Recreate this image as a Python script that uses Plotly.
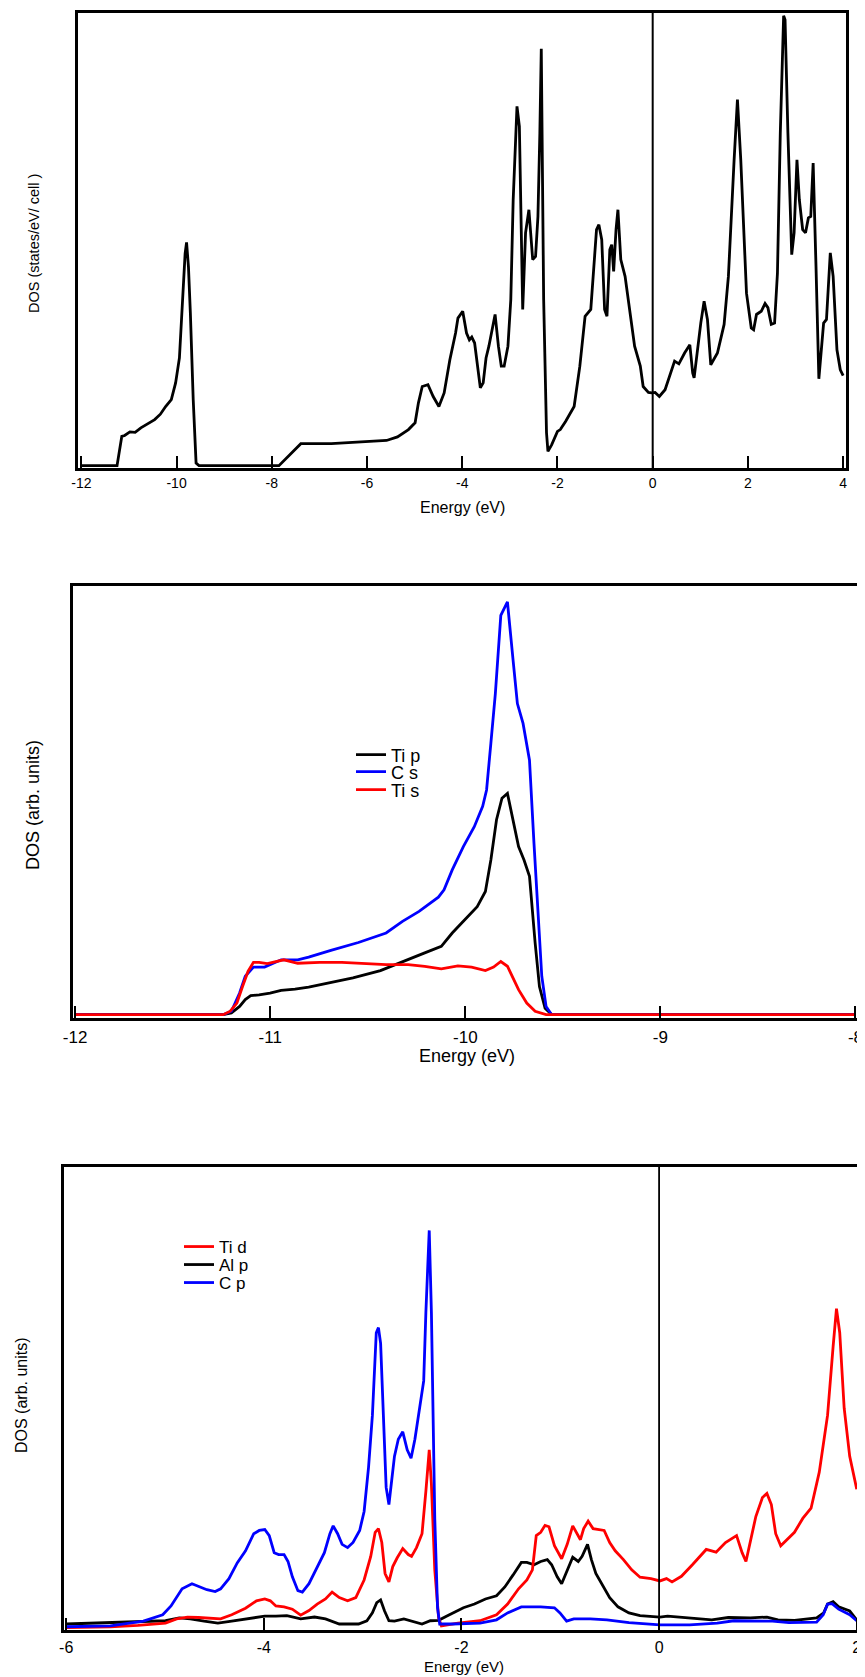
import plotly.graph_objects as go

# ---------------- Panel 1: total DOS ----------------
tot_E = [-12.0, -11.25, -11.15, -11.09, -10.98, -10.87, -10.75, -10.64, -10.46, -10.34,
         -10.23, -10.11, -10.02, -9.94, -9.88, -9.82, -9.79, -9.75, -9.71, -9.65,
         -9.59, -9.53, -7.85, -7.39, -6.75, -6.17, -5.59, -5.36, -5.13, -4.99,
         -4.92, -4.84, -4.72, -4.61, -4.49, -4.38, -4.26, -4.14, -4.09, -3.99,
         -3.91, -3.85, -3.80, -3.74, -3.68, -3.62, -3.56, -3.50, -3.44, -3.39,
         -3.31, -3.24, -3.18, -3.12, -3.04, -2.98, -2.93, -2.85, -2.80, -2.73,
         -2.67, -2.60, -2.52, -2.46, -2.41, -2.37, -2.34, -2.29, -2.23, -2.20,
         -2.12, -2.00, -1.94, -1.83, -1.65, -1.53, -1.42, -1.30, -1.24, -1.18,
         -1.13, -1.07, -1.01, -0.96, -0.90, -0.86, -0.82, -0.77, -0.73, -0.67,
         -0.58, -0.49, -0.38, -0.26, -0.20, -0.09, -0.02, 0.05, 0.14, 0.26,
         0.38, 0.46, 0.55, 0.67, 0.78, 0.84, 0.87, 0.95, 1.01, 1.08,
         1.15, 1.22, 1.36, 1.50, 1.59, 1.71, 1.78, 1.85, 1.97, 2.07,
         2.12, 2.18, 2.28, 2.36, 2.42, 2.49, 2.56, 2.62, 2.68, 2.75,
         2.78, 2.84, 2.92, 2.97, 3.03, 3.08, 3.15, 3.21, 3.27, 3.32,
         3.37, 3.43, 3.49, 3.59, 3.65, 3.73, 3.79, 3.87, 3.94, 4.0]
tot_DOS = [0.15, 0.15, 6.6, 6.8, 7.6, 7.5, 8.5, 9.2, 10.3, 11.5,
           13.2, 14.7, 18.4, 23.9, 36.8, 47.0, 49.4, 44.0, 33.8, 14.7,
           0.7, 0.15, 0.15, 5.0, 5.0, 5.3, 5.7, 6.5, 8.1, 9.6,
           14.0, 17.6, 18.0, 15.4, 13.2, 16.2, 23.5, 29.4, 32.7, 34.2,
           29.4, 27.9, 28.5, 27.2, 22.1, 17.3, 18.4, 23.9, 26.5, 29.4,
           33.5, 26.5, 22.1, 22.1, 26.5, 36.8, 58.8, 79.4, 75.0, 34.6,
           51.5, 56.6, 45.6, 46.3, 55.1, 73.5, 92.1, 36.8, 7.4, 3.3,
           4.8, 7.7, 8.1, 9.9, 13.2, 22.1, 33.1, 34.6, 44.1, 52.2,
           53.3, 50.0, 34.6, 33.1, 47.8, 48.9, 43.0, 52.2, 56.6, 45.6,
           41.9, 35.3, 26.5, 22.1, 17.6, 16.3, 16.2, 16.3, 15.4, 16.9,
           20.6, 23.2, 22.6, 25.0, 26.8, 20.6, 19.5, 27.2, 31.6, 36.4,
           32.4, 22.4, 25.0, 31.3, 41.9, 67.6, 80.9, 67.6, 38.2, 30.5,
           30.1, 33.5, 34.2, 35.9, 35.0, 31.3, 31.6, 42.6, 73.5, 99.4,
           98.5, 73.5, 46.7, 51.5, 67.6, 58.8, 52.2, 51.5, 54.8, 55.1,
           66.9, 44.1, 19.3, 31.6, 32.4, 47.1, 41.9, 25.7, 21.3, 20.0]
ticks1 = [-12, -10, -8, -6, -4, -2, 0, 2, 4]
ticks1_text = ["-12", "-10", "-8", "-6", "-4", "-2", "0", "2", "4"]

# ---------------- Panel 2: Ti p, C s, Ti s ----------------
tip_E = [-12.0, -11.241, -11.199, -11.157, -11.128, -11.100, -11.057, -11.001, -10.944, -10.873,
         -10.803, -10.689, -10.576, -10.435, -10.322, -10.208, -10.123, -10.067, -10.010, -9.939,
         -9.897, -9.869, -9.840, -9.812, -9.784, -9.755, -9.727, -9.699, -9.671, -9.642,
         -9.620, -9.591, -9.557, -8.0]
tip_DOS = [0, 0, 0.4, 1.9, 3.5, 4.4, 4.6, 5.0, 5.6, 5.9,
           6.4, 7.5, 8.5, 10.2, 12.3, 14.3, 15.8, 18.9, 21.6, 25.0,
           28.5, 35.8, 45.1, 50.1, 51.2, 45.1, 38.9, 35.8, 32.0, 16.6,
           6.5, 1.5, 0, 0]
cs_E = [-12.0, -11.241, -11.199, -11.157, -11.128, -11.086, -11.029, -10.987, -10.944, -10.859,
        -10.803, -10.689, -10.548, -10.406, -10.322, -10.237, -10.138, -10.109, -10.067, -10.010,
        -9.954, -9.911, -9.891, -9.869, -9.846, -9.818, -9.784, -9.755, -9.733, -9.704,
        -9.671, -9.648, -9.628, -9.608, -9.586, -9.557, -8.0]
cs_DOS = [0, 0, 0.8, 5.0, 8.9, 11.0, 11.0, 11.8, 12.7, 12.7,
          13.3, 14.9, 16.7, 18.9, 21.6, 23.9, 27.2, 28.9, 33.5, 38.9,
          43.5, 48.2, 52.0, 62.8, 74.3, 92.4, 95.5, 82.0, 72.0, 67.4,
          58.9, 39.7, 24.3, 8.9, 1.9, 0, 0]
tis_E = [-12.0, -11.241, -11.205, -11.171, -11.142, -11.114, -11.086, -11.057, -11.015, -10.973,
         -10.930, -10.859, -10.746, -10.633, -10.520, -10.406, -10.293, -10.208, -10.123, -10.038,
         -9.968, -9.897, -9.855, -9.818, -9.784, -9.755, -9.727, -9.685, -9.642, -9.586,
         -8.0]
tis_DOS = [0, 0, 0.8, 2.7, 6.5, 10.0, 12.1, 12.1, 11.8, 12.3,
           12.7, 11.9, 12.1, 12.1, 11.8, 11.6, 11.6, 11.2, 10.6, 11.3,
           11.0, 10.2, 11.0, 12.3, 11.2, 8.5, 5.8, 2.7, 0.8, 0,
           0]
ticks2 = [-12, -11, -10, -9, -8]
ticks2_text = ["-12", "-11", "-10", "-9", "-8"]

# ---------------- Panel 3: Ti d, Al p, C p ----------------
tid_E = [-6.0, -5.553, -5.274, -4.995, -4.883, -4.772, -4.660, -4.437, -4.325, -4.185,
         -4.074, -3.990, -3.934, -3.878, -3.795, -3.711, -3.627, -3.543, -3.460, -3.376,
         -3.309, -3.236, -3.152, -3.069, -2.985, -2.918, -2.873, -2.840, -2.806, -2.773,
         -2.734, -2.695, -2.650, -2.594, -2.538, -2.505, -2.455, -2.399, -2.360, -2.326,
         -2.304, -2.270, -2.231, -2.203, -2.036, -1.812, -1.645, -1.533, -1.422, -1.338,
         -1.282, -1.243, -1.198, -1.154, -1.114, -1.059, -0.986, -0.930, -0.874, -0.835,
         -0.796, -0.763, -0.718, -0.668, -0.612, -0.556, -0.500, -0.444, -0.361, -0.277,
         -0.193, -0.082, 0.008, 0.075, 0.131, 0.226, 0.337, 0.477, 0.577, 0.672,
         0.784, 0.840, 0.879, 0.924, 0.979, 1.046, 1.091, 1.136, 1.180, 1.231,
         1.287, 1.370, 1.454, 1.538, 1.621, 1.705, 1.761, 1.795, 1.828, 1.873,
         1.929, 2.0]
tid_DOS = [0.5, 0.7, 1.0, 1.5, 2.4, 2.8, 2.7, 2.4, 3.3, 4.7,
           6.3, 6.7, 6.3, 5.2, 5.0, 4.5, 3.2, 4.2, 5.6, 6.7,
           8.2, 7.0, 6.3, 7.0, 10.8, 15.9, 21.1, 21.9, 18.9, 12.2,
           10.4, 13.7, 15.6, 17.6, 16.3, 15.9, 17.8, 20.8, 30.0, 38.9,
           31.5, 13.0, 2.6, 0.9, 1.5, 2.0, 3.3, 5.6, 8.9, 10.8,
           13.0, 20.4, 21.1, 22.6, 22.3, 18.2, 15.4, 18.5, 22.5, 21.1,
           19.5, 21.9, 23.5, 21.9, 21.7, 21.5, 18.9, 17.1, 15.2, 13.0,
           11.4, 11.1, 10.6, 11.1, 10.4, 11.6, 14.1, 17.4, 16.8, 18.9,
           20.4, 16.7, 14.8, 18.9, 24.5, 28.6, 29.5, 27.1, 20.8, 18.2,
           19.3, 21.1, 24.1, 26.3, 34.1, 46.4, 61.2, 69.4, 64.2, 47.9,
           37.5, 30.4]
alp_E = [-6.0, -5.553, -5.218, -4.995, -4.855, -4.744, -4.604, -4.465, -4.325, -4.157,
         -3.990, -3.878, -3.767, -3.627, -3.487, -3.376, -3.236, -3.041, -2.957, -2.901,
         -2.857, -2.818, -2.778, -2.734, -2.678, -2.583, -2.510, -2.399, -2.315, -2.231,
         -2.147, -1.980, -1.868, -1.757, -1.645, -1.561, -1.477, -1.394, -1.338, -1.265,
         -1.198, -1.131, -1.087, -1.031, -0.986, -0.930, -0.874, -0.818, -0.779, -0.724,
         -0.685, -0.640, -0.573, -0.500, -0.416, -0.305, -0.193, 0.008, 0.086, 0.309,
         0.533, 0.700, 0.924, 1.091, 1.203, 1.370, 1.594, 1.666, 1.705, 1.761,
         1.817, 1.929, 2.0]
alp_DOS = [1.3, 1.6, 1.8, 2.0, 2.6, 2.4, 1.9, 1.5, 1.9, 2.4,
           3.0, 3.0, 3.1, 2.4, 2.8, 2.4, 1.3, 1.3, 2.0, 3.7,
           5.9, 6.5, 4.1, 2.0, 1.9, 2.4, 1.9, 1.3, 2.0, 2.1,
           3.0, 4.8, 5.6, 6.7, 7.4, 9.3, 11.9, 14.6, 14.6, 14.1,
           14.8, 15.2, 14.1, 11.5, 10.0, 13.0, 15.7, 14.8, 15.9, 18.5,
           15.2, 12.2, 9.6, 7.0, 5.0, 3.7, 3.1, 2.8, 3.0, 2.6,
           2.2, 2.7, 2.6, 2.8, 2.2, 2.1, 2.6, 3.7, 5.6, 6.1,
           5.0, 4.1, 2.2]
cp_E = [-6.0, -5.553, -5.218, -5.023, -4.939, -4.883, -4.827, -4.727, -4.660, -4.576,
        -4.492, -4.437, -4.353, -4.269, -4.185, -4.102, -4.046, -3.990, -3.945, -3.895,
        -3.850, -3.795, -3.755, -3.711, -3.655, -3.610, -3.543, -3.460, -3.387, -3.331,
        -3.298, -3.253, -3.208, -3.152, -3.097, -3.030, -2.985, -2.940, -2.901, -2.862,
        -2.840, -2.818, -2.790, -2.762, -2.734, -2.706, -2.678, -2.639, -2.594, -2.549,
        -2.510, -2.471, -2.427, -2.382, -2.360, -2.326, -2.304, -2.270, -2.242, -2.220,
        -2.092, -1.812, -1.645, -1.533, -1.394, -1.198, -1.059, -1.003, -0.936, -0.863,
        -0.696, -0.528, -0.305, 0.008, 0.309, 0.588, 0.756, 1.147, 1.314, 1.594,
        1.661, 1.705, 1.750, 1.817, 1.929, 2.0]
cp_DOS = [0.7, 0.9, 1.9, 3.3, 5.2, 7.0, 8.9, 10.0, 9.4, 8.7,
          8.3, 8.9, 11.1, 14.5, 17.1, 20.8, 21.5, 21.7, 20.4, 16.7,
          16.3, 16.3, 14.8, 11.5, 8.5, 8.2, 10.0, 13.4, 16.7, 20.8,
          22.5, 20.8, 18.5, 17.8, 18.9, 21.5, 25.6, 35.2, 46.4, 64.2,
          65.3, 61.9, 44.9, 30.8, 27.1, 32.3, 37.5, 41.2, 42.8, 38.9,
          37.1, 41.2, 47.1, 53.8, 68.6, 86.3, 68.6, 24.1, 4.8, 1.3,
          1.3, 1.5, 2.2, 3.7, 5.0, 5.0, 4.8, 3.7, 1.9, 2.4,
          2.4, 2.2, 1.6, 1.1, 1.1, 1.5, 2.0, 1.9, 1.6, 1.7,
          3.3, 5.6, 5.7, 4.5, 3.3, 2.0]
ticks3 = [-6, -4, -2, 0, 2]
ticks3_text = ["-6", "-4", "-2", "0", "2"]

# The page body has an 8 px default margin, so the figure is drawn 8 px in
# from the top-left corner of the window; positions below are page pixels.
OFF = 8
W, H = 865 - OFF, 1677 - OFF
FONT = "Liberation Sans, Arial, sans-serif"
LW = 2.8


def px_x(p):
    return (p - OFF) / W


def px_y(p):
    return 1 - (p - OFF) / H


fig = go.Figure()

fig.add_trace(go.Scatter(x=tot_E, y=tot_DOS, mode="lines", line=dict(color="black", width=LW),
                         xaxis="x", yaxis="y", showlegend=False))

fig.add_trace(go.Scatter(x=tip_E, y=tip_DOS, mode="lines", name="Ti p", line=dict(color="black", width=LW),
                         xaxis="x2", yaxis="y2", legend="legend"))
fig.add_trace(go.Scatter(x=cs_E, y=cs_DOS, mode="lines", name="C s", line=dict(color="#0000ff", width=LW),
                         xaxis="x2", yaxis="y2", legend="legend2"))
fig.add_trace(go.Scatter(x=tis_E, y=tis_DOS, mode="lines", name="Ti s", line=dict(color="#ff0000", width=LW),
                         xaxis="x2", yaxis="y2", legend="legend3"))

fig.add_trace(go.Scatter(x=alp_E, y=alp_DOS, mode="lines", name="Al p", line=dict(color="black", width=LW),
                         xaxis="x3", yaxis="y3", legend="legend5"))
fig.add_trace(go.Scatter(x=tid_E, y=tid_DOS, mode="lines", name="Ti d", line=dict(color="#ff0000", width=LW),
                         xaxis="x3", yaxis="y3", legend="legend4"))
fig.add_trace(go.Scatter(x=cp_E, y=cp_DOS, mode="lines", name="C p", line=dict(color="#0000ff", width=LW),
                         xaxis="x3", yaxis="y3", legend="legend6"))


def xax(domain, rng, tv, tt, fsize, standoff, anchor):
    return dict(domain=domain, range=rng, tickvals=tv, ticktext=tt, ticks="inside", ticklen=12,
                tickwidth=2, tickcolor="black", showline=True, linewidth=3, linecolor="black",
                mirror=True, showgrid=False, zeroline=False, ticklabelstandoff=standoff,
                ticklabeloverflow="allow", automargin=False, anchor=anchor,
                tickfont=dict(family=FONT, size=fsize, color="black"))


def yax(domain, rng, anchor):
    return dict(domain=domain, range=rng, showticklabels=False, ticks="", showline=True,
                linewidth=3, linecolor="black", mirror=True, showgrid=False, zeroline=False,
                automargin=False, anchor=anchor)


def leg(xp, yp, size):
    return dict(x=px_x(xp), y=px_y(yp), xanchor="left", yanchor="middle", bgcolor="rgba(0,0,0,0)",
                borderwidth=0, font=dict(family=FONT, size=size, color="black"))


def note(text, xp, yp, size, angle=0):
    return dict(text=text, xref="paper", yref="paper", x=px_x(xp), y=px_y(yp),
                xanchor="center", yanchor="middle", showarrow=False, textangle=angle,
                font=dict(size=size, family=FONT, color="black"))


fig.update_layout(
    template="none",
    width=W, height=H, margin=dict(l=0, r=0, t=0, b=0, pad=0, autoexpand=False),
    paper_bgcolor="white", plot_bgcolor="white",
    font=dict(family=FONT, color="black"),
    xaxis=xax([px_x(78), px_x(846)], [-12.07, 4.06], ticks1, ticks1_text, 14, 0, "y"),
    yaxis=yax([px_y(468), px_y(13)], [-0.37, 100], "x"),
    xaxis2=xax([px_x(73), px_x(858)], [-12.011, -7.987], ticks2, ticks2_text, 17, 2, "y2"),
    yaxis2=yax([px_y(1018), px_y(586)], [-0.77, 99.2], "x2"),
    xaxis3=xax([px_x(64), px_x(859)], [-6.022, 2.023], ticks3, ticks3_text, 16, 1, "y3"),
    yaxis3=yax([px_y(1630), px_y(1167)], [0, 100], "x3"),
    legend=leg(351, 755, 18),
    legend2=leg(351, 772, 18),
    legend3=leg(351, 790, 18),
    legend4=leg(179, 1247, 17),
    legend5=leg(179, 1265, 17),
    legend6=leg(179, 1283, 17),
    shapes=[
        dict(type="line", xref="x", yref="y domain", x0=0, x1=0, y0=0, y1=1,
             line=dict(color="black", width=2)),
        dict(type="line", xref="x3", yref="y3 domain", x0=0, x1=0, y0=0, y1=1,
             line=dict(color="black", width=1.8)),
    ],
    annotations=[
        note("Energy (eV)", 463, 507, 16),
        note("Energy (eV)", 467, 1056, 18),
        note("Energy (eV)", 464, 1666, 15),
        note("DOS (states/eV/ cell )", 34, 244, 14.5, -90),
        note("DOS (arb. units)", 33, 805, 18, -90),
        note("DOS (arb. units)", 21, 1395, 16, -90),
    ],
)

fig.write_html("out.html")
